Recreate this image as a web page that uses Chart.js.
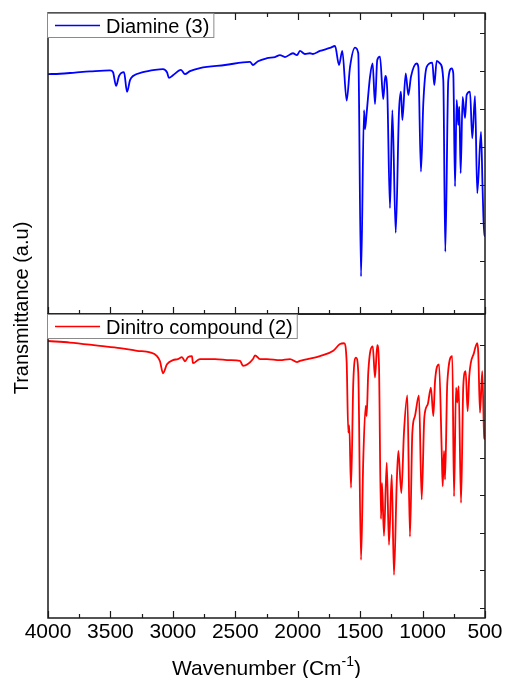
<!DOCTYPE html>
<html>
<head>
<meta charset="utf-8">
<script src="https://cdn.jsdelivr.net/npm/chart.js@4.4.0/dist/chart.umd.min.js"></script>
<style>
  html, body { margin: 0; padding: 0; background: #fff; }
  canvas { display: block; }
</style>
</head>
<body>
<canvas id="irChart" width="505" height="678"></canvas>
<script>
const FONT = 'Arial, "Liberation Sans", sans-serif';

// x axis (wavenumber, cm-1)
const xTickValues = [4000, 3500, 3000, 2500, 2000, 1500, 1000, 500];
const xMinorStep = 250;
// right-hand tick marks of each panel (arbitrary transmittance units)
const tTicks = [0, 10, 20, 30, 40, 50, 60, 70];

// Diamine (3)
const diamineWn = [4000, 3904, 3784, 3664, 3503, 3479, 3455, 3431, 3391, 3367, 3343, 3319, 3239, 3143, 3079, 3047,
  3031, 2999, 2935, 2903, 2863, 2783, 2582, 2382, 2358, 2318, 2246, 2182, 2142, 2102, 2038, 2006, 1982, 1942, 1902,
  1878, 1822, 1741, 1701, 1669, 1643, 1608, 1581, 1541, 1515, 1493, 1469, 1461, 1448, 1421, 1400, 1381, 1363, 1341,
  1315, 1299, 1283, 1261, 1242, 1215, 1189, 1173, 1162, 1135, 1114, 1093, 1047, 1034, 1013, 994, 967, 922, 906, 887,
  860, 834, 818, 794, 767, 754, 740, 727, 714, 706, 695, 679, 660, 647, 620, 602, 580, 562, 532, 519, 506, 500];
const diamineT = [59.2, 59.3, 59.6, 59.9, 60.2, 59.7, 56.1, 58.7, 59.7, 54.5, 57.6, 58.7, 59.7, 60.3, 60.5, 59.7,
  58.2, 58.9, 60.3, 59.2, 60.0, 60.8, 61.6, 62.4, 61.6, 62.6, 63.4, 63.7, 64.2, 63.7, 64.7, 64.2, 65.3, 64.5, 64.7,
  64.5, 65.3, 66.1, 66.6, 61.6, 65.3, 52.2, 61.1, 66.2, 64.7, 5.9, 49.7, 44.7, 48.9, 58.5, 62.0, 51.3, 62.9, 63.8,
  52.6, 58.7, 55.0, 23.9, 49.7, 17.4, 49.3, 54.6, 47.1, 59.4, 53.7, 58.5, 62.0, 61.1, 33.5, 51.6, 61.1, 62.2, 56.3, 62.7,
  62.0, 57.6, 12.4, 57.6, 60.7, 59.4, 29.6, 52.4, 45.8, 50.6, 33.1, 53.2, 47.6, 53.7, 54.6, 42.3, 53.4, 27.8, 44.0, 28.7, 16.6, 16.6];

// Dinitro compound (2)
const dinitroWn = [4000, 3824, 3584, 3423, 3287, 3183, 3127, 3103, 3079, 3047, 2999, 2959, 2927, 2903, 2879, 2847,
  2839, 2783, 2663, 2542, 2462, 2438, 2358, 2342, 2302, 2246, 2142, 2062, 2006, 1982, 1822, 1715, 1661, 1629, 1608,
  1595, 1587, 1573, 1555, 1533, 1515, 1493, 1475, 1456, 1448, 1435, 1399, 1381, 1363, 1349, 1333, 1325, 1309, 1287,
  1269, 1247, 1229, 1207, 1194, 1170, 1149, 1122, 1101, 1082, 1061, 1029, 1007, 986, 959, 933, 914, 900, 868, 847,
  839, 828, 820, 802, 762, 748, 732, 722, 711, 692, 674, 655, 639, 626, 588, 562, 554, 540, 522, 506, 500];
const dinitroT = [71.1, 70.7, 69.8, 69.2, 68.5, 68.1, 67.1, 65.7, 62.5, 64.9, 66.0, 66.3, 66.8, 65.7, 66.8, 67.1,
  65.2, 66.3, 66.3, 66.0, 65.8, 64.5, 66.3, 67.3, 66.3, 66.3, 66.0, 66.3, 65.5, 65.8, 67.1, 68.5, 70.3, 70.5, 65.5,
  46.7, 48.6, 32.0, 60.0, 66.7, 62.7, 12.8, 39.5, 53.8, 51.1, 62.7, 69.7, 61.4, 70.0, 64.5, 23.7, 33.3, 19.2, 38.7,
  16.8, 35.5, 8.8, 33.3, 41.8, 30.6, 46.7, 56.6, 19.0, 46.7, 51.1, 56.6, 28.9, 50.7, 54.2, 58.7, 51.1, 60.5, 64.9, 42.2,
  32.4, 41.8, 34.2, 60.0, 67.1, 29.7, 58.7, 54.7, 59.1, 28.0, 59.1, 63.1, 52.4, 61.8, 68.0, 70.5, 68.0, 52.0, 63.1, 45.3, 44.9];

const toPoints = (xs, ys) => xs.map((x, i) => ({ x: x, y: ys[i] }));

const panelFrame = {
  id: 'panelFrame',
  afterDraw(chart) {
    const { ctx, chartArea: a, scales } = chart;
    const x = scales.x, yt = scales.yTop, yb = scales.yBot;
    ctx.save();

    // panel boxes
    ctx.strokeStyle = '#1a1a1a';
    ctx.lineWidth = 1.5;
    [yt, yb].forEach(s => ctx.strokeRect(a.left, s.top, a.right - a.left, s.bottom - s.top));

    // inward ticks
    ctx.lineWidth = 1.2;
    ctx.beginPath();
    for (let v = 500; v <= 4000; v += xMinorStep) {
      const px = Math.round(x.getPixelForValue(v)) + 0.5;
      const len = v % 500 === 0 ? 7 : 4;
      ctx.moveTo(px, yt.top); ctx.lineTo(px, yt.top + len);
      ctx.moveTo(px, yt.bottom); ctx.lineTo(px, yt.bottom - len);
      ctx.moveTo(px, yb.bottom); ctx.lineTo(px, yb.bottom - len);
    }
    [yt, yb].forEach(s => tTicks.forEach(t => {
      const py = Math.round(s.getPixelForValue(t)) + 0.5;
      ctx.moveTo(a.right, py); ctx.lineTo(a.right - 5, py);
    }));
    ctx.stroke();

    // legends, one per panel
    ctx.font = '20px ' + FONT;
    chart.data.datasets.forEach(ds => {
      const s = scales[ds.yAxisID];
      const w = ctx.measureText(ds.label).width;
      const bx = a.left - 1, by = s.top, bw = 63 + w, bh = 24;
      ctx.fillStyle = '#fff';
      ctx.fillRect(bx, by, bw, bh);
      ctx.strokeStyle = '#8a8a8a';
      ctx.lineWidth = 1;
      ctx.strokeRect(bx + 0.5, by + 0.5, bw, bh);
      ctx.strokeStyle = ds.borderColor;
      ctx.lineWidth = 1.5;
      ctx.beginPath();
      ctx.moveTo(bx + 8, by + 12.5); ctx.lineTo(bx + 53, by + 12.5);
      ctx.stroke();
      ctx.fillStyle = '#000';
      ctx.textAlign = 'left';
      ctx.textBaseline = 'alphabetic';
      ctx.fillText(ds.label, bx + 59, by + 20);
    });

    // y title
    ctx.save();
    ctx.translate(28, 308);
    ctx.rotate(-Math.PI / 2);
    ctx.textAlign = 'center';
    ctx.fillText('Transmittance (a.u)', 0, 0);
    ctx.restore();

    // x title with superscript
    const big = '21px ' + FONT, small = '14px ' + FONT;
    const t1 = 'Wavenumber (Cm', sup = '-1', t2 = ')';
    ctx.font = big;
    const w1 = ctx.measureText(t1).width, w3 = ctx.measureText(t2).width;
    ctx.font = small;
    const w2 = ctx.measureText(sup).width;
    let tx = (a.left + a.right) / 2 - (w1 + w2 + w3) / 2;
    const base = 675;
    ctx.textAlign = 'left';
    ctx.font = big; ctx.fillText(t1, tx, base); tx += w1;
    ctx.font = small; ctx.fillText(sup, tx, base - 9); tx += w2;
    ctx.font = big; ctx.fillText(t2, tx, base);
    ctx.restore();
  }
};

new Chart(document.getElementById('irChart'), {
  type: 'line',
  data: {
    datasets: [
      {
        label: 'Diamine (3)',
        data: toPoints(diamineWn, diamineT),
        yAxisID: 'yTop',
        borderColor: '#0000ff',
        borderWidth: 1.8,
        pointRadius: 0,
        cubicInterpolationMode: 'monotone',
      },
      {
        label: 'Dinitro compound (2)',
        data: toPoints(dinitroWn, dinitroT),
        yAxisID: 'yBot',
        borderColor: '#ff0000',
        borderWidth: 1.8,
        pointRadius: 0,
        cubicInterpolationMode: 'monotone',
      },
    ],
  },
  options: {
    responsive: false,
    animation: false,
    layout: { padding: { top: 13, right: 20, left: 0, bottom: 0 } },
    plugins: { legend: { display: false }, tooltip: { enabled: false } },
    scales: {
      x: {
        type: 'linear',
        reverse: true,
        min: 500,
        max: 4000,
        afterBuildTicks: s => { s.ticks = xTickValues.map(v => ({ value: v })); },
        afterFit: s => { s.height = 60; },
        ticks: {
          callback: v => String(v),
          color: '#000',
          font: { family: FONT, size: 21 },
          maxRotation: 0,
          autoSkip: false,
          padding: 2,
        },
        grid: { display: false, drawTicks: false, tickLength: 0 },
        border: { display: false },
      },
      yBot: {
        type: 'linear',
        position: 'left',
        stack: 'ir',
        stackWeight: 304,
        min: -2.7,
        max: 78.3,
        afterFit: s => { s.width = 48; },
        ticks: { display: false },
        grid: { display: false, drawTicks: false },
        border: { display: false },
      },
      yTop: {
        type: 'linear',
        position: 'left',
        stack: 'ir',
        stackWeight: 301,
        min: -4,
        max: 75.3,
        afterFit: s => { s.width = 48; },
        ticks: { display: false },
        grid: { display: false, drawTicks: false },
        border: { display: false },
      },
    },
  },
  plugins: [panelFrame],
});
</script>
</body>
</html>
